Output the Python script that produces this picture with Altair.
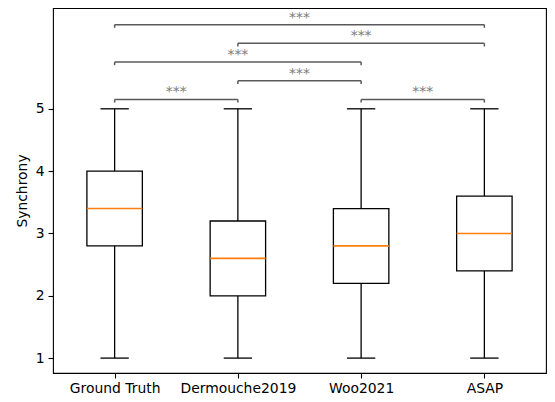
import altair as alt
import pandas as pd

# ---- data ----
categories = ["Ground Truth", "Dermouche2019", "Woo2021", "ASAP"]
whisker_low = [1.0, 1.0, 1.0, 1.0]
q1 = [2.8, 2.0, 2.2, 2.4]
median = [3.4, 2.6, 2.8, 3.0]
q3 = [4.0, 3.2, 3.4, 3.6]
whisker_high = [5.0, 5.0, 5.0, 5.0]

# significance brackets (1-based category index)
bracket_from = [1, 3, 2, 1, 2, 1]
bracket_to = [2, 4, 3, 3, 4, 4]
bracket_level = [5.15, 5.15, 5.45, 5.75, 6.05, 6.35]
bracket_label = ["***", "***", "***", "***", "***", "***"]

BOX_HALF = 0.225
CAP_HALF = 0.115
TICK_H = 0.05

box = pd.DataFrame({
    "cat": categories,
    "pos": list(range(1, len(categories) + 1)),
    "lo": whisker_low, "q1": q1, "med": median, "q3": q3, "hi": whisker_high,
})
box["left"] = box["pos"] - BOX_HALF
box["right"] = box["pos"] + BOX_HALF
box["capl"] = box["pos"] - CAP_HALF
box["capr"] = box["pos"] + CAP_HALF

br = pd.DataFrame({"x1": bracket_from, "x2": bracket_to,
                   "level": bracket_level, "label": bracket_label})
br["bottom"] = br["level"] - TICK_H
br["mid"] = (br["x1"] + br["x2"]) / 2

W, H = 493, 365
xs = alt.Scale(domain=[0.5, 4.5], nice=False, zero=False)
ys = alt.Scale(domain=[0.761, 6.6175], nice=False, zero=False)
label_js = "[" + ",".join('"%s"' % c for c in categories) + "]"
xaxis = alt.Axis(values=[1, 2, 3, 4], labelExpr=label_js + "[datum.value-1]",
                 title=None, grid=False, domain=False, tickSize=5, labelPadding=3)
yaxis = alt.Axis(values=[1, 2, 3, 4, 5], title="Synchrony", grid=False, domain=False,
                 tickSize=5, labelPadding=4, titleAngle=-90, titleX=-27,
                 titleY=H / 2, titleBaseline="alphabetic", titleAlign="center")

LW = 1.3
base_box = alt.Chart(box)

whisk_hi = base_box.mark_rule(color="black", strokeWidth=LW).encode(
    x=alt.X("pos:Q", scale=xs, axis=xaxis),
    y=alt.Y("q3:Q", scale=ys, axis=yaxis), y2="hi:Q")
whisk_lo = base_box.mark_rule(color="black", strokeWidth=LW).encode(
    x=alt.X("pos:Q", scale=xs, axis=xaxis),
    y=alt.Y("lo:Q", scale=ys, axis=yaxis), y2="q1:Q")
cap_hi = base_box.mark_rule(color="black", strokeWidth=LW).encode(
    x=alt.X("capl:Q", scale=xs, axis=xaxis), x2="capr:Q",
    y=alt.Y("hi:Q", scale=ys, axis=yaxis))
cap_lo = base_box.mark_rule(color="black", strokeWidth=LW).encode(
    x=alt.X("capl:Q", scale=xs, axis=xaxis), x2="capr:Q",
    y=alt.Y("lo:Q", scale=ys, axis=yaxis))
rect = base_box.mark_rect(fill="white", stroke="black", strokeWidth=LW).encode(
    x=alt.X("left:Q", scale=xs, axis=xaxis), x2="right:Q",
    y=alt.Y("q1:Q", scale=ys, axis=yaxis), y2="q3:Q")
med = base_box.mark_rule(color="#ff7f0e", strokeWidth=1.6).encode(
    x=alt.X("left:Q", scale=xs, axis=xaxis), x2="right:Q",
    y=alt.Y("med:Q", scale=ys, axis=yaxis))

BR_COLOR = "#5a5a5a"
base_br = alt.Chart(br)
br_h = base_br.mark_rule(color=BR_COLOR, strokeWidth=1.5).encode(
    x=alt.X("x1:Q", scale=xs, axis=xaxis), x2="x2:Q",
    y=alt.Y("level:Q", scale=ys, axis=yaxis))
br_l = base_br.mark_rule(color=BR_COLOR, strokeWidth=1.5).encode(
    x=alt.X("x1:Q", scale=xs, axis=xaxis),
    y=alt.Y("bottom:Q", scale=ys, axis=yaxis), y2="level:Q")
br_r = base_br.mark_rule(color=BR_COLOR, strokeWidth=1.5).encode(
    x=alt.X("x2:Q", scale=xs, axis=xaxis),
    y=alt.Y("bottom:Q", scale=ys, axis=yaxis), y2="level:Q")
br_t = base_br.mark_text(color="#808080", fontSize=13.9, baseline="alphabetic",
                         align="center", dy=-3).encode(
    x=alt.X("mid:Q", scale=xs, axis=xaxis),
    y=alt.Y("level:Q", scale=ys, axis=yaxis),
    text="label:N")

chart = alt.layer(whisk_hi, whisk_lo, cap_hi, cap_lo, rect, med,
                  br_h, br_l, br_r, br_t).properties(
    width=W, height=H,
    autosize=alt.AutoSizeParams(type="none"),
    padding={"left": 45, "top": 0, "right": 1, "bottom": 21},
).configure(font="DejaVu Sans").configure_view(
    stroke="black", strokeWidth=1.1
).configure_axis(
    labelFont="DejaVu Sans", labelFontSize=13.9, labelColor="black",
    titleFont="DejaVu Sans", titleFontSize=13.9, titleColor="black",
    titleFontWeight="normal", tickColor="black", tickWidth=1.1,
)

chart.save("out.html", embed_options={"renderer": "svg", "actions": False})
